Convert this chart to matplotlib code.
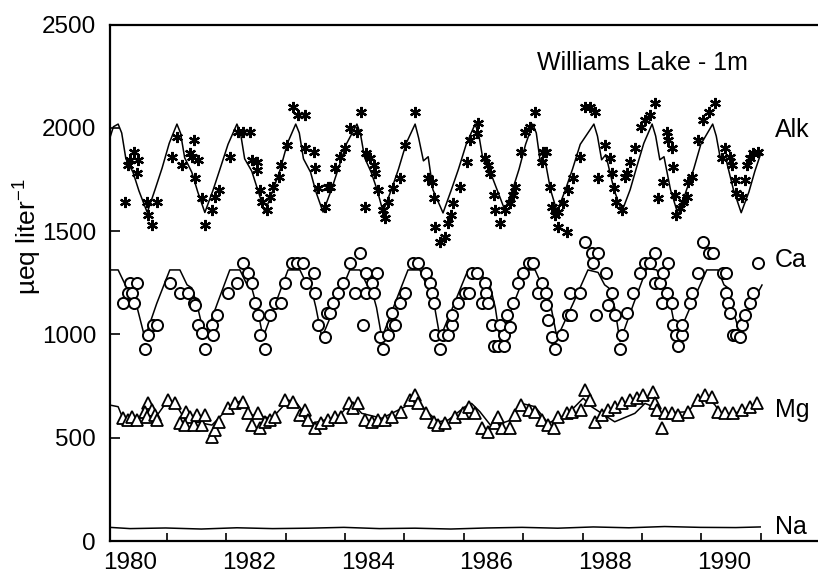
import matplotlib
matplotlib.use("Agg")
import matplotlib.pyplot as plt

plt.rcParams['font.family'] = ['Liberation Sans', 'DejaVu Sans']
plt.rcParams['mathtext.fontset'] = 'custom'
plt.rcParams['mathtext.rm'] = 'Liberation Sans'
plt.rcParams['mathtext.it'] = 'Liberation Sans'

# ---------------- model lines ----------------
alk_line_x = [1979.66, 1979.72, 1979.80, 1979.86, 1979.93, 1980.05, 1980.15, 1980.29,
              1980.42, 1980.54, 1980.66, 1980.79, 1980.85, 1980.92, 1981.04, 1981.14, 1981.26,
              1981.40, 1981.52, 1981.65, 1981.80, 1981.86, 1981.93, 1982.05, 1982.15, 1982.27,
              1982.41, 1982.53, 1982.65, 1982.79, 1982.85, 1982.92, 1983.04, 1983.13, 1983.25,
              1983.39, 1983.51, 1983.64, 1983.82, 1983.88, 1983.95, 1984.06, 1984.16, 1984.26,
              1984.40, 1984.52, 1984.65, 1984.80, 1984.86, 1984.94, 1985.02, 1985.10, 1985.27,
              1985.41, 1985.53, 1985.66, 1985.81, 1985.87, 1985.94, 1986.06, 1986.18, 1986.31,
              1986.44, 1986.55, 1986.66, 1986.78, 1986.84, 1986.90, 1986.99, 1987.08, 1987.19,
              1987.33, 1987.45, 1987.58, 1987.81, 1987.87, 1987.94, 1988.01, 1988.15, 1988.28,
              1988.42, 1988.53, 1988.65, 1988.79, 1988.85, 1988.92, 1988.99, 1989.10, 1989.23,
              1989.37, 1989.49, 1989.61, 1989.81, 1989.87, 1989.94, 1990.04, 1990.16, 1990.29,
              1990.42, 1990.52, 1990.63]
alk_line_y = [1950, 2005, 2018, 1975, 1850, 1785, 1695, 1590,
              1700, 1805, 1925, 2018, 1975, 1855, 1785, 1690, 1590,
              1700, 1805, 1920, 2018, 1975, 1850, 1790, 1700, 1592,
              1700, 1800, 1925, 2018, 1975, 1850, 1785, 1690, 1592,
              1700, 1805, 1920, 2018, 1970, 1855, 1785, 1700, 1594,
              1700, 1800, 1925, 2018, 1950, 1840, 1860, 1700, 1588,
              1700, 1800, 1920, 2018, 1970, 1850, 1790, 1700, 1602,
              1700, 1800, 1920, 2018, 1975, 1850, 1840, 1700, 1594,
              1700, 1800, 1920, 2018, 1960, 1845, 1870, 1700, 1594,
              1700, 1810, 1925, 2018, 1960, 1845, 1860, 1700, 1578,
              1700, 1800, 1920, 2018, 1960, 1850, 1840, 1700, 1589,
              1690, 1790, 1884]

ca_line_x = [1979.66, 1979.80, 1979.92, 1980.00, 1980.12, 1980.25, 1980.45, 1980.67, 1980.84,
             1980.96, 1981.04, 1981.14, 1981.26, 1981.47, 1981.68, 1981.85, 1981.97, 1982.05,
             1982.14, 1982.24, 1982.45, 1982.66, 1982.86, 1982.98, 1983.05, 1983.13, 1983.23,
             1983.47, 1983.70, 1983.87, 1983.99, 1984.06, 1984.15, 1984.24, 1984.46, 1984.68,
             1984.88, 1984.99, 1985.05, 1985.13, 1985.22, 1985.46, 1985.69, 1985.89, 1986.00,
             1986.07, 1986.15, 1986.23, 1986.46, 1986.68, 1986.82, 1986.93, 1987.00, 1987.09,
             1987.19, 1987.46, 1987.71, 1987.88, 1987.99, 1988.06, 1988.16, 1988.25, 1988.48,
             1988.70, 1988.87, 1988.96, 1989.02, 1989.11, 1989.21, 1989.46, 1989.71, 1989.90,
             1990.00, 1990.07, 1990.14, 1990.22, 1990.44, 1990.64]
ca_line_y = [1312, 1312, 1240, 1225, 1130, 983, 1150, 1312, 1312,
             1240, 1225, 1130, 983, 1150, 1312, 1312, 1240, 1225,
             1130, 985, 1150, 1312, 1312, 1240, 1225, 1130, 985,
             1150, 1312, 1312, 1240, 1225, 1130, 983, 1150, 1312,
             1312, 1240, 1225, 1130, 983, 1150, 1312, 1312, 1240,
             1225, 1130, 975, 1150, 1312, 1312, 1240, 1225, 1130,
             983, 1150, 1312, 1300, 1240, 1225, 1130, 965, 1150,
             1320, 1312, 1240, 1225, 1130, 983, 1150, 1312, 1312,
             1240, 1225, 1130, 1050, 1130, 1239]

mg_line_x = [1979.66, 1979.80, 1979.89, 1980.10, 1980.48, 1980.64, 1980.76, 1980.93, 1981.38,
             1981.65, 1981.88, 1982.05, 1982.39, 1982.67, 1982.81, 1983.06, 1983.51, 1983.73,
             1983.90, 1984.24, 1984.63, 1984.80, 1984.97, 1985.19, 1985.36, 1985.64, 1985.75,
             1985.89, 1986.09, 1986.42, 1986.59, 1986.82, 1987.04, 1987.38, 1987.63, 1987.77,
             1987.94, 1988.16, 1988.50, 1988.67, 1988.81, 1988.95, 1989.40, 1989.57, 1989.71,
             1989.85, 1989.96, 1990.30, 1990.58]
mg_line_y = [658, 650, 586, 595, 618, 682, 666, 586, 561,
             642, 682, 610, 594, 682, 666, 570, 602, 674,
             618, 594, 650, 698, 634, 577, 586, 650, 666,
             626, 553, 586, 666, 650, 570, 618, 691, 650,
             618, 577, 618, 666, 650, 618, 626, 691, 698,
             658, 610, 626, 650]

na_line_x = [1979.66, 1980.00, 1980.60, 1981.20, 1981.80, 1982.40, 1983.00, 1983.60, 1984.20,
             1984.80, 1985.40, 1986.00, 1986.60, 1987.20, 1987.80, 1988.40, 1989.00, 1989.60,
             1990.20, 1990.61]
na_line_y = [66, 60, 63, 58, 64, 60, 62, 66, 60,
             62, 58, 63, 66, 62, 68, 64, 70, 66,
             65, 68]

# ---------------- observations ----------------
alk_obs_x = [1979.92, 1980.06, 1980.00, 1980.14, 1979.97, 1980.11, 1980.28, 1980.45, 1980.31, 1980.37,
             1980.70, 1980.79, 1980.87, 1981.07, 1981.01, 1981.04, 1981.15, 1981.09, 1981.21, 1981.26,
             1981.38, 1981.43, 1981.49, 1981.68, 1981.82, 1981.91, 1982.02, 1982.05, 1982.13, 1982.13,
             1982.19, 1982.22, 1982.30, 1982.36, 1982.41, 1982.50, 1982.55, 1982.64, 1982.75, 1982.83,
             1982.95, 1982.95, 1983.09, 1983.11, 1983.17, 1983.34, 1983.28, 1983.37, 1983.45, 1983.54,
             1983.62, 1983.70, 1983.82, 1983.89, 1983.96, 1983.98, 1984.04, 1984.10, 1984.12, 1984.18,
             1984.26, 1984.29, 1984.35, 1984.43, 1984.55, 1984.63, 1984.80, 1985.02, 1985.08, 1985.11,
             1985.13, 1985.22, 1985.30, 1985.36, 1985.40, 1985.44, 1985.56, 1985.67, 1985.72, 1985.86,
             1985.84, 1985.98, 1986.03, 1986.06, 1986.12, 1986.14, 1986.23, 1986.31, 1986.40, 1986.45,
             1986.48, 1986.59, 1986.65, 1986.73, 1986.81, 1986.96, 1986.93, 1987.01, 1987.07, 1987.10,
             1987.15, 1987.21, 1987.29, 1987.38, 1987.46, 1987.58, 1987.21, 1987.35, 1987.66, 1987.74,
             1987.83, 1987.88, 1988.00, 1988.08, 1988.11, 1988.14, 1988.19, 1988.28, 1988.36, 1988.42,
             1988.50, 1988.33, 1988.61, 1988.67, 1988.75, 1988.84, 1988.89, 1988.98, 1989.04, 1989.06,
             1989.12, 1989.15, 1989.18, 1989.20, 1989.26, 1989.31, 1989.37, 1989.40, 1989.46, 1989.57,
             1989.65, 1989.74, 1989.85, 1990.02, 1989.96, 1990.10, 1990.13, 1990.18, 1990.21, 1990.30,
             1990.35, 1990.38, 1990.44, 1990.49, 1990.58]
alk_obs_y = [1642, 1884, 1844, 1844, 1820, 1780, 1642, 1642, 1578, 1529,
             1860, 1957, 1820, 1941, 1876, 1860, 1844, 1755, 1659, 1529,
             1602, 1666, 1699, 1860, 1981, 1981, 1981, 1844, 1836, 1796,
             1699, 1642, 1602, 1666, 1715, 1763, 1820, 1917, 2102, 2062,
             2062, 1901, 1884, 1804, 1707, 1715, 1618, 1715, 1804, 1860,
             1901, 1997, 1981, 2078, 1618, 1876, 1852, 1820, 1780, 1699,
             1602, 1562, 1642, 1707, 1755, 1917, 2078, 1755, 1739, 1659,
             1521, 1449, 1473, 1538, 1578, 1634, 1715, 1836, 1941, 2022,
             1973, 1852, 1820, 1780, 1675, 1602, 1538, 1602, 1634, 1675,
             1715, 1884, 1981, 2005, 2078, 1884, 1836, 1884, 1715, 1618,
             1578, 1594, 1634, 1699, 1755, 1860, 1521, 1497, 2102, 2102,
             2078, 1755, 1917, 1852, 1780, 1707, 1642, 1602, 1780, 1836,
             1901, 1763, 2005, 2038, 2062, 2118, 1659, 1739, 1981, 1941,
             1901, 1812, 1675, 1578, 1610, 1642, 1666, 1739, 1763, 1941,
             2038, 2078, 2118, 1901, 1852, 1860, 1820, 1747, 1683, 1666,
             1747, 1820, 1852, 1876, 1884]

ca_obs_x = [1980.00, 1980.11, 1979.97, 1980.03, 1979.89, 1980.06, 1980.31, 1980.39, 1980.45, 1980.25,
            1980.67, 1980.84, 1980.98, 1981.07, 1981.09, 1981.15, 1981.21, 1981.26, 1981.38, 1981.40,
            1981.46, 1981.65, 1981.80, 1981.91, 1981.99, 1982.05, 1982.10, 1982.16, 1982.19, 1982.27,
            1982.36, 1982.44, 1982.55, 1982.61, 1982.72, 1982.81, 1982.92, 1983.09, 1982.97, 1983.11,
            1983.17, 1983.28, 1983.31, 1983.37, 1983.42, 1983.51, 1983.59, 1983.70, 1983.87, 1983.79,
            1983.98, 1984.15, 1984.07, 1983.98, 1984.10, 1983.93, 1984.21, 1984.26, 1984.35, 1984.41,
            1984.46, 1984.41, 1984.55, 1984.63, 1984.77, 1984.85, 1984.99, 1985.05, 1985.08, 1985.11,
            1985.13, 1985.22, 1985.27, 1985.36, 1985.42, 1985.42, 1985.53, 1985.64, 1985.70, 1985.75,
            1985.84, 1985.98, 1986.00, 1985.92, 1986.03, 1986.09, 1986.12, 1986.20, 1986.29, 1986.29,
            1986.23, 1986.40, 1986.34, 1986.45, 1986.53, 1986.62, 1986.71, 1986.79, 1986.93, 1986.87,
            1987.01, 1987.01, 1987.04, 1987.10, 1987.15, 1987.27, 1987.38, 1987.43, 1987.41, 1987.58,
            1987.66, 1987.77, 1987.80, 1987.88, 1988.02, 1988.11, 1988.05, 1987.85, 1988.16, 1988.28,
            1988.25, 1988.36, 1988.47, 1988.59, 1988.67, 1988.75, 1988.84, 1988.84, 1988.92, 1988.98,
            1989.06, 1989.04, 1988.95, 1989.12, 1989.15, 1989.20, 1989.29, 1989.23, 1989.29, 1989.43,
            1989.46, 1989.65, 1989.74, 1989.82, 1989.57, 1989.99, 1990.04, 1990.04, 1990.07, 1990.10,
            1990.16, 1990.21, 1990.27, 1990.30, 1990.35, 1990.44, 1990.49, 1990.58]
ca_obs_y = [1247, 1247, 1199, 1199, 1150, 1150, 997, 1045, 1045, 930,
            1247, 1199, 1199, 1150, 1142, 1045, 1005, 930, 1045, 997,
            1094, 1199, 1247, 1344, 1296, 1247, 1150, 1094, 997, 930,
            1094, 1150, 1150, 1247, 1344, 1344, 1344, 1296, 1247, 1199,
            1045, 989, 1102, 1102, 1150, 1199, 1247, 1344, 1395, 1199,
            1296, 1296, 1247, 1199, 1199, 1045, 989, 930, 997, 1045,
            1045, 1102, 1150, 1199, 1344, 1344, 1296, 1247, 1199, 1150,
            997, 930, 997, 997, 1045, 1094, 1150, 1199, 1199, 1296,
            1296, 1247, 1199, 1150, 1150, 1045, 945, 945, 945, 997,
            1045, 1037, 1094, 1150, 1247, 1296, 1344, 1344, 1247, 1199,
            1199, 1142, 1070, 989, 930, 997, 1094, 1094, 1199, 1199,
            1449, 1392, 1344, 1392, 1296, 1199, 1142, 1094, 1094, 997,
            930, 1102, 1199, 1296, 1344, 1344, 1392, 1247, 1247, 1296,
            1344, 1199, 1150, 1150, 1045, 997, 997, 945, 1045, 1150,
            1199, 1449, 1392, 1392, 1296, 1296, 1296, 1199, 1150, 1102,
            997, 997, 989, 1045, 1094, 1150, 1199, 1344]

mg_obs_x = [1979.89, 1979.97, 1980.03, 1980.11, 1980.31, 1980.25, 1980.37, 1980.28, 1980.42, 1980.45,
            1980.64, 1980.76, 1980.84, 1980.95, 1981.01, 1980.93, 1981.07, 1981.12, 1981.21, 1981.26,
            1981.38, 1981.43, 1981.49, 1981.65, 1981.77, 1981.91, 1981.99, 1982.05, 1982.16, 1982.19,
            1982.27, 1982.36, 1982.44, 1982.61, 1982.75, 1982.86, 1982.95, 1983.00, 1983.11, 1983.22,
            1983.34, 1983.45, 1983.56, 1983.68, 1983.76, 1983.84, 1983.96, 1984.07, 1984.18, 1984.29,
            1984.41, 1984.57, 1984.71, 1984.80, 1984.85, 1984.99, 1985.11, 1985.19, 1985.30, 1985.47,
            1985.61, 1985.70, 1985.81, 1985.92, 1986.03, 1986.14, 1986.26, 1986.40, 1986.20, 1986.48,
            1986.59, 1986.71, 1986.82, 1986.93, 1987.04, 1987.13, 1987.21, 1987.35, 1987.44, 1987.60,
            1987.66, 1987.74, 1987.83, 1987.94, 1988.05, 1988.16, 1988.28, 1988.42, 1988.53, 1988.64,
            1988.81, 1988.84, 1988.87, 1988.95, 1989.01, 1989.12, 1989.23, 1989.40, 1989.57, 1989.68,
            1989.79, 1989.90, 1990.02, 1990.15, 1990.30, 1990.44, 1990.55]
mg_obs_y = [594, 586, 602, 586, 666, 626, 634, 602, 610, 586,
            682, 666, 570, 626, 602, 561, 561, 610, 561, 610,
            505, 537, 577, 642, 666, 674, 618, 561, 618, 545,
            577, 586, 602, 682, 674, 610, 634, 586, 545, 570,
            586, 602, 602, 666, 642, 666, 586, 577, 586, 586,
            602, 626, 682, 707, 666, 618, 577, 561, 570, 602,
            618, 650, 618, 545, 529, 570, 545, 545, 602, 610,
            658, 634, 626, 586, 561, 545, 602, 618, 626, 634,
            731, 682, 577, 610, 634, 650, 666, 682, 691, 707,
            723, 666, 634, 545, 618, 618, 610, 626, 682, 707,
            698, 626, 618, 618, 634, 650, 666]

year_labels = [1980, 1982, 1984, 1986, 1988, 1990]
y_ticks = [0, 500, 1000, 1500, 2000, 2500]

# ---------------- figure ----------------
fig = plt.figure(figsize=(8.18, 5.74), dpi=100)
ax = fig.add_axes([110 / 818, 33 / 574, 720 / 818, 516.5 / 574])

lc = 'black'
ax.plot(alk_line_x, alk_line_y, color=lc, lw=1.1)
ax.plot(ca_line_x, ca_line_y, color=lc, lw=1.1)
ax.plot(mg_line_x, mg_line_y, color=lc, lw=1.1)
ax.plot(na_line_x, na_line_y, color=lc, lw=1.1)

ax.plot(alk_obs_x, alk_obs_y, ls='none', marker=(6, 2, 0), ms=8, mew=1.6,
        color='black')
ax.plot(ca_obs_x, ca_obs_y, ls='none', marker='o', ms=8, mew=1.4,
        mfc='white', mec='black')
ax.plot(mg_obs_x, mg_obs_y, ls='none', marker='^', ms=8.5, mew=1.3,
        mfc='white', mec='black')

ax.set_xlim(1979.663, 1991.785)
ax.set_ylim(0, 2500)

ax.spines['right'].set_visible(False)
for s in ['left', 'bottom', 'top']:
    ax.spines[s].set_linewidth(1.6)

ax.set_xticks(year_labels)
ax.set_xticklabels([str(y) for y in year_labels])
ax.set_xticks([1980.62 + k for k in range(11)], minor=True)
ax.tick_params(axis='x', which='major', length=0, pad=8, labelsize=17.5)
ax.tick_params(axis='x', which='minor', direction='in', length=6, width=1.2)
ax.set_yticks(y_ticks)
ax.tick_params(axis='y', which='major', direction='in', length=7, width=1.2,
               pad=10, labelsize=17.5, right=False)
ax.tick_params(top=False)

ax.text(1986.85, 2314, 'Williams Lake - 1m', fontsize=18, ha='left', va='center')
ax.text(1990.86, 1989, 'Alk', fontsize=18, ha='left', va='center')
ax.text(1990.86, 1360, 'Ca', fontsize=18, ha='left', va='center')
ax.text(1990.86, 634, 'Mg', fontsize=18, ha='left', va='center')
ax.text(1990.86, 68, 'Na', fontsize=18, ha='left', va='center')

fig.text(28 / 818, 1 - 237 / 574, 'µeq liter$^{-1}$', rotation=90, fontsize=19,
         ha='center', va='center')

fig.savefig('out.png', dpi=100)
